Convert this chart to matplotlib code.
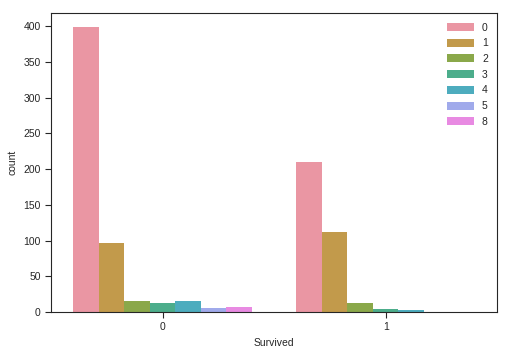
import matplotlib
matplotlib.use("Agg")
import matplotlib.pyplot as plt
import seaborn as sns
import numpy as np

survived = ["0", "1"]
sibsp = ["0", "1", "2", "3", "4", "5", "8"]
counts = {
    "0": [398, 210],
    "1": [97, 112],
    "2": [15, 13],
    "3": [12, 4],
    "4": [15, 3],
    "5": [5, 0],
    "8": [7, 0],
}

sns.set_style("ticks")
plt.rcParams["font.family"] = ["Liberation Sans", "DejaVu Sans"]
plt.rcParams["font.size"] = 7.5

# husl palette, as it looks after seaborn's desaturation
colors = ["#EA96A3", "#C29A4B", "#8AA84A", "#4CAD8B", "#4DACBE", "#A0AAEB", "#E88AE2"]

fig, ax = plt.subplots(figsize=(5.1, 3.55), dpi=100)
fig.subplots_adjust(left=0.1, right=0.975, top=0.963, bottom=0.121)

x = np.arange(len(survived))
w = 0.8 / len(sibsp)
for i, s in enumerate(sibsp):
    ax.bar(x - 0.4 + w * (i + 0.5), counts[s], width=w, color=colors[i],
           linewidth=0, edgecolor="none", label=s)

ax.set_xticks(x)
ax.set_xticklabels(survived)
ax.set_xlim(-0.5, 1.5)
ax.set_ylim(0, 418)
ax.set_xlabel("Survived")
ax.set_ylabel("count")
ax.tick_params(labelsize=7.5, colors="#262626", length=4)
ax.legend(frameon=False, loc="upper right", fontsize=7.5, handlelength=2.6,
          handleheight=0.8, labelspacing=0.55)

fig.savefig("out.png")
